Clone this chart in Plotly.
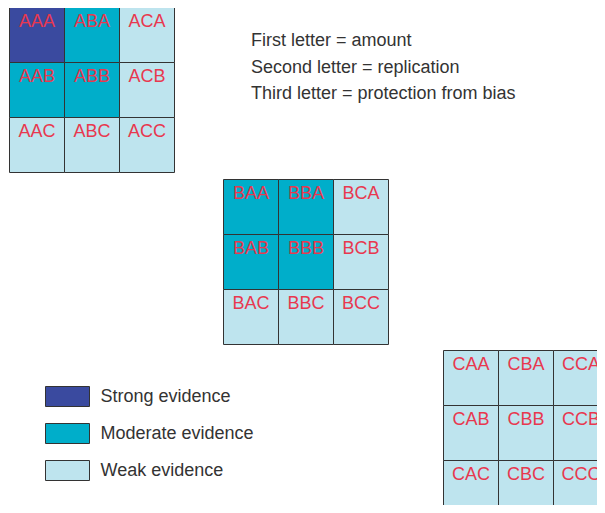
import plotly.graph_objects as go

# ---- data ----
amount_letters = ["A", "B", "C"]        # first letter: one grid each
replication_letters = ["A", "B", "C"]   # second letter: grid column
protection_letters = ["A", "B", "C"]    # third letter: grid row
# evidence level per grid [row=third letter][col=second letter]; 2=strong, 1=moderate, 0=weak
evidence_A = [[2, 1, 0], [1, 1, 0], [0, 0, 0]]
evidence_B = [[1, 1, 0], [1, 1, 0], [0, 0, 0]]
evidence_C = [[0, 0, 0], [0, 0, 0], [0, 0, 0]]
evidence_levels = ["Weak evidence", "Moderate evidence", "Strong evidence"]
key_lines = ["First letter = amount", "Second letter = replication", "Third letter = protection from bias"]

# ---- style / layout ----
level_colors = ["#BEE4EE", "#00AECA", "#3A4A9F"]
label_color = "#E8384F"
text_color = "#333333"
border_color = "#333333"
font = "Liberation Sans, Arial, Helvetica, sans-serif"
W, H = 605, 513
PAD = 8  # page body margin
cell = 55
grid_origins = [(9.5, 7.5), (223.5, 179.5), (443.5, 350.5)]

fig = go.Figure()
shapes = []
grids = [evidence_A, evidence_B, evidence_C]
for g, (letter, ev) in enumerate(zip(amount_letters, grids)):
    ox, oy = grid_origins[g]
    xs, ys, texts = [], [], []
    for r, third in enumerate(protection_letters):
        for c, second in enumerate(replication_letters):
            x0 = ox + c * cell
            y0 = oy + r * cell
            shapes.append(dict(type="rect", xref="x", yref="y", x0=x0, y0=y0, x1=x0 + cell, y1=y0 + cell,
                               fillcolor=level_colors[ev[r][c]], line=dict(color=border_color, width=1),
                               layer="below"))
            xs.append(x0 + cell / 2)
            ys.append(y0 + 14.5)
            texts.append(letter + second + third)
    fig.add_trace(go.Scatter(x=xs, y=ys, text=texts, mode="text", textposition="middle center",
                             textfont=dict(family=font, size=18, color=label_color),
                             hoverinfo="skip", showlegend=False, cliponaxis=False))

# legend key (strong, moderate, weak from top)
leg_x, leg_y0, leg_dy = 45.5, 386.5, 37
leg_w, leg_h = 44, 20
lx, ly, lt = [], [], []
for i, lvl in enumerate([2, 1, 0]):
    y0 = leg_y0 + i * leg_dy
    shapes.append(dict(type="rect", xref="x", yref="y", x0=leg_x, y0=y0, x1=leg_x + leg_w, y1=y0 + leg_h,
                       fillcolor=level_colors[lvl], line=dict(color=border_color, width=1)))
    lx.append(leg_x + leg_w + 11)
    ly.append(y0 + leg_h / 2 + 1)
    lt.append(evidence_levels[lvl])
fig.add_trace(go.Scatter(x=lx, y=ly, text=lt, mode="text", textposition="middle right",
                         textfont=dict(family=font, size=18, color=text_color),
                         hoverinfo="skip", showlegend=False))

# key text
fig.add_trace(go.Scatter(x=[251] * 3, y=[41.5 + 26.5 * i for i in range(3)], text=key_lines, mode="text",
                         textposition="middle right",
                         textfont=dict(family=font, size=18, color=text_color),
                         hoverinfo="skip", showlegend=False))

fig.update_layout(
    width=W - PAD, height=H - 2 * PAD, margin=dict(l=0, r=0, t=0, b=0),
    paper_bgcolor="white", plot_bgcolor="white", shapes=shapes,
    xaxis=dict(range=[PAD, W], visible=False, fixedrange=True),
    yaxis=dict(range=[H - PAD, PAD], visible=False, fixedrange=True),
    showlegend=False,
)
fig.write_html("out.html")
